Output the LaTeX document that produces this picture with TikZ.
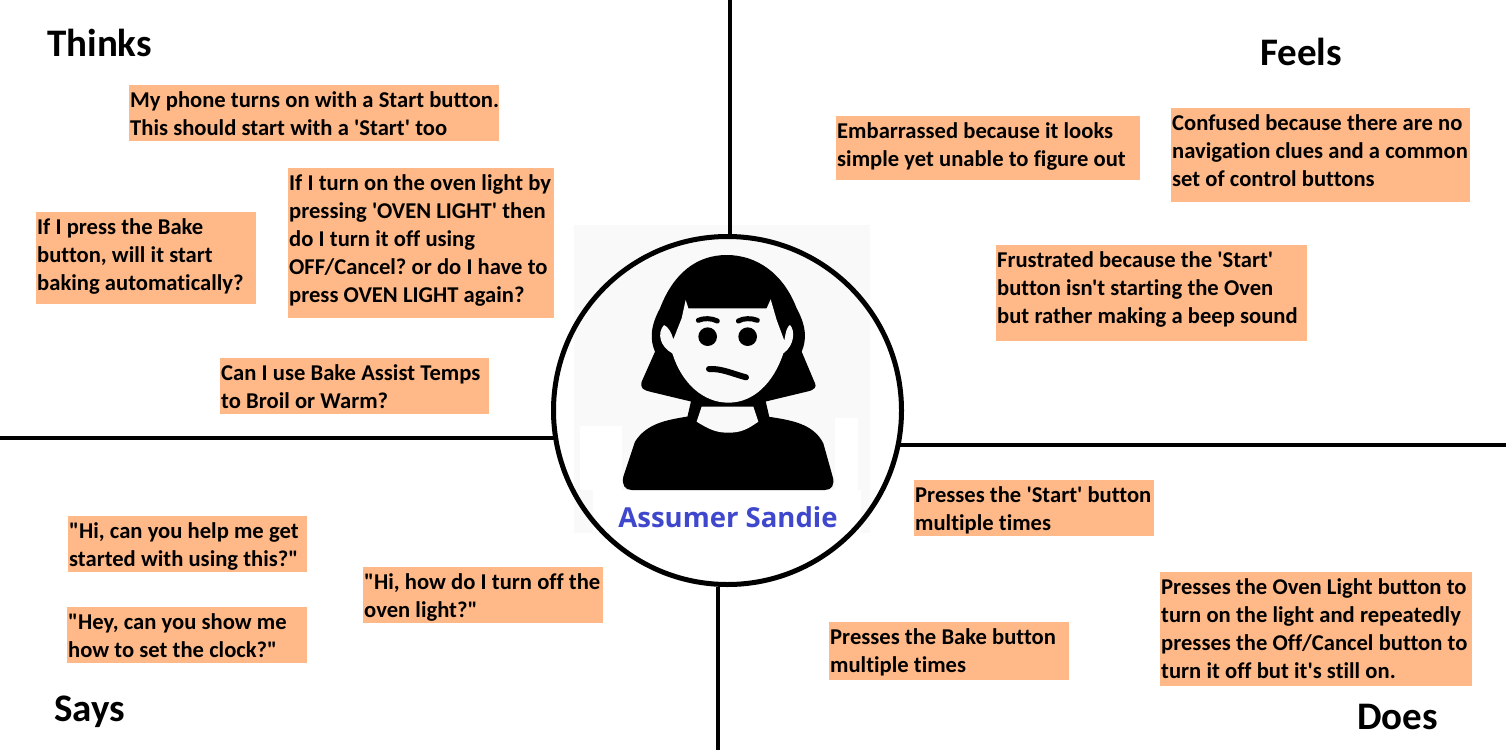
\documentclass[tikz,border=0pt]{standalone}
\usepackage{fontspec}
\setmainfont{Carlito}[Ligatures={TeXOff,NoCommon}]
\newfontfamily\namefont{Open Sans}
\definecolor{peach}{RGB}{255,185,136}
\definecolor{paper}{RGB}{249,249,249}
\definecolor{namecol}{RGB}{63,72,204}
\tikzset{
  sticky/.style 2 args={fill=peach,anchor=north west,inner xsep=1pt,inner ysep=0pt,align=left,
    text width=#1-2pt,text depth=#2-22.6pt,
    execute at begin node={\frenchspacing\spaceskip=5.2pt\rightskip=-20pt plus 1fil\rule{0pt}{22.6pt}},
    font=\fontsize{22.6}{28}\selectfont\bfseries},
  heading/.style={font=\fontsize{39}{44}\selectfont\bfseries},
  axis/.style={line width=4pt},
}
\begin{document}
\begin{tikzpicture}[x=1pt,y=-1pt]
\useasboundingbox (0,0) rectangle (1506,750);

% pale square behind the portrait
\fill[paper] (574,225) rectangle (870,533);
\fill[white] (580,426) rectangle (622,490);
\fill[white] (835,418) rectangle (858,497);
\fill[white] (593,490) rectangle (861,533);

\node[circle,draw,line width=5pt,minimum size=348pt,inner sep=0pt] (sandie) at (727.5,410.5) {};

% the four quadrant lines
\coordinate (topedge) at (730,0);
\coordinate (leftedge) at (0,438);
\coordinate (rightedge) at (1506,445);
\coordinate (bottomedge) at (718,750);
\draw[axis] (topedge)--(topedge |- sandie.north);
\draw[axis,shorten >=-6pt] (leftedge)--(leftedge -| sandie.west);
\draw[axis,shorten >=-6pt] (rightedge)--(rightedge -| sandie.east);
\draw[axis] (bottomedge)--(bottomedge |- sandie.south);

% portrait, in coordinates of a 3x crop
\begin{scope}[shift={(540,220)},scale=1/3]
\fill (440,590)..controls (380,600) and (320,610) .. (285,665)--(250,770)..controls (245,795) and (255,810) .. (275,810)
  --(855,810)..controls (875,810) and (885,795) .. (878,770)--(850,670)..controls (820,610) and (750,600) .. (685,590)--cycle;
\fill (455,535)--(440,600)--(690,600)--(675,535)--cycle;
\fill[paper] (485,560)--(470,605)..controls (510,630) and (530,638) .. (565,638)..controls (600,638) and (620,630) .. (655,605)--(640,560)--cycle;
\fill (560,105)..controls (470,105) and (400,160) .. (360,265)..controls (330,320) and (330,360) .. (345,395)
  --(305,485)..controls (300,505) and (310,510) .. (330,515)--(455,545)--(675,545)--(800,515)
  ..controls (825,510) and (830,500) .. (825,490)--(785,395)..controls (800,360) and (800,320) .. (770,265)
  ..controls (730,160) and (650,105) .. (560,105)--cycle;
\fill[paper] (437,240)--(445,265)--(680,265)--(692,238)--(710,300)--(733,362)..controls (738,330) and (742,320) .. (750,315)
  ..controls (765,330) and (765,375) .. (730,400)..controls (700,490) and (640,548) .. (565,548)
  ..controls (490,548) and (425,490) .. (397,400)..controls (360,380) and (350,340) .. (372,315)
  ..controls (385,320) and (395,340) .. (400,358)--(425,295)--cycle;
\fill (503,350) circle (28);
\fill (623,350) circle (28);
\draw[line width=5pt,line cap=round] (475,301)..controls (490,294) and (515,294) .. (532,303);
\draw[line width=5pt,line cap=round] (595,303)..controls (610,294) and (635,294) .. (652,301);
\draw[line width=6pt,line cap=round] (507,447)..controls (545,445) and (580,462) .. (618,472);
\end{scope}

\node[font=\fontsize{27.5}{32}\namefont\bfseries,text=namecol] (name) at (728,517) {Assumer Sandie};

% headings
\node[heading,anchor=west,inner sep=0pt] (thinks) at (47,43) {Thinks};
\node[heading,anchor=west,inner sep=0pt] (feels) at (1260,52) {Feels};
\node[heading,anchor=west,inner sep=0pt] (says) at (54,712) {Says};
\node[heading,anchor=west,inner sep=0pt] (does) at (1357,717) {Does};

% thinks
\node[sticky={370pt}{56pt}] (phone) at (129,85) {My phone turns on with a Start button.\\This should start with a 'Start' too};
\node[sticky={266pt}{150pt}] (ovenlight) at (288,168) {If I turn on the oven light by\\pressing 'OVEN LIGHT' then\\do I turn it off using\\OFF/Cancel? or do I have to\\press OVEN LIGHT again?};
\node[sticky={220pt}{92pt}] (bake) at (36,212) {If I press the Bake\\button, will it start\\baking automatically?};
\node[sticky={269pt}{56pt}] (assist) at (220,358) {Can I use Bake Assist Temps\\to Broil or Warm?};

% feels
\node[sticky={304pt}{64pt}] (embarrassed) at (836,116) {Embarrassed because it looks\\simple yet unable to figure out};
\node[sticky={299pt}{94pt}] (confused) at (1171,108) {Confused because there are no\\navigation clues and a common\\set of control buttons};
\node[sticky={311pt}{96pt}] (frustrated) at (996,245) {Frustrated because the 'Start'\\button isn't starting the Oven\\but rather making a beep sound};

% does
\node[sticky={240pt}{56pt}] (pressstart) at (914,480) {Presses the 'Start' button\\multiple times};
\node[sticky={240pt}{58pt}] (pressbake) at (829,622) {Presses the Bake button\\multiple times};
\node[sticky={312pt}{114pt}] (presslight) at (1160,572) {Presses the Oven Light button to\\turn on the light and repeatedly\\presses the Off/Cancel button to\\turn it off but it's still on.};

% says
\node[sticky={239pt}{56pt}] (sayhelp) at (68,516) {"Hi, can you help me get\\started with using this?"};
\node[sticky={240pt}{56pt}] (sayclock) at (67,607) {"Hey, can you show me\\how to set the clock?"};
\node[sticky={240pt}{56pt}] (saylight) at (363,567) {"Hi, how do I turn off the\\oven light?"};

\end{tikzpicture}
\end{document}
